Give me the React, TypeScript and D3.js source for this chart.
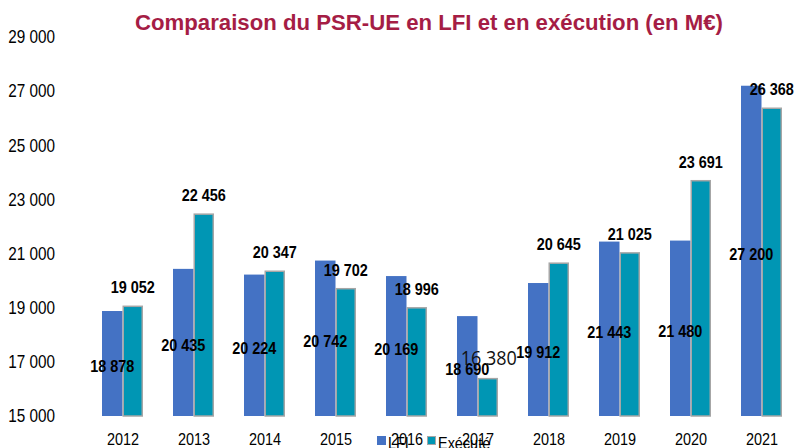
import React from "react";
import * as d3 from "d3";

const years = ["2012", "2013", "2014", "2015", "2016", "2017", "2018", "2019", "2020", "2021"];
const lfi = [18878, 20435, 20224, 20742, 20169, 18690, 19912, 21443, 21480, 27200];
const execute = [19052, 22456, 20347, 19702, 18996, 16380, 20645, 21025, 23691, 26368];
const yTicks = [15000, 17000, 19000, 21000, 23000, 25000, 27000, 29000];
const seriesNames = ["LFI", "Exécuté"];

const W = 795;
const H = 448;
const SANS = "'Liberation Sans', Arial, sans-serif";
const fmt = (v: number) => d3.format(",")(v).replace(/,/g, " ");

function NText({ x, y, anchor = "start", size = 17, bold = false, fill = "#000", sx = 0.85, dy = "0", family = SANS, children }: any) {
  return (
    <text
      transform={`translate(${x},${y}) scale(${sx},1)`}
      dy={dy}
      textAnchor={anchor}
      fontFamily={family}
      fontWeight={bold ? "bold" : "normal"}
      fontSize={size}
      fill={fill}
    >
      {children}
    </text>
  );
}

export default function App() {
  const x = d3.scaleBand<string>().domain(years).range([87, 797]).padding(0);
  const inner = d3.scaleBand<string>().domain(["LFI", "Exec"]).range([15, 56]).padding(0);
  const y = d3.scaleLinear().domain([15000, 29000]).range([416, 37]);
  const blue = "#4472C4";
  const teal = "#0096B4";
  const grey = "#A6A6A6";

  return (
    <svg width={W} height={H} style={{ position: "absolute", left: 0, top: 0 }}>
      <rect width={W} height={H} fill="#fff" />
      <text x={429} y={30} textAnchor="middle" fontFamily={SANS} fontWeight="bold" fontSize={22.2} fill="#A51D45">
        Comparaison du PSR-UE en LFI et en exécution (en M€)
      </text>
      {yTicks.map((t) => (
        <NText key={t} x={55} y={y(t)} dy="0.35em" anchor="end" size={18}>
          {fmt(t)}
        </NText>
      ))}
      {years.map((yr, i) => {
        const x0 = x(yr)!;
        const xl = x0 + inner("LFI")!;
        const xe = x0 + inner("Exec")!;
        const bw = inner.bandwidth();
        return (
          <g key={yr}>
            <rect x={xl} y={y(lfi[i])} width={bw} height={y(15000) - y(lfi[i])} fill={blue} />
            <rect x={xe + 0.75} y={y(execute[i])} width={bw - 1.5} height={y(15000) - y(execute[i])} fill={teal} stroke={grey} strokeWidth={1.5} />
          </g>
        );
      })}
      {years.map((yr) => (
        <NText key={yr} x={x(yr)! + x.bandwidth() / 2 + 0.5} y={445} anchor="middle" size={17}>
          {yr}
        </NText>
      ))}
      {years.map((yr, i) => {
        const x0 = x(yr)!;
        const bw = inner.bandwidth();
        const cl = x0 + inner("LFI")! + bw / 2;
        const ce = x0 + inner("Exec")! + bw / 2;
        const midL = (y(lfi[i]) + y(15000)) / 2;
        const odd = i === 5;
        return (
          <g key={yr}>
            <NText x={cl} y={midL + 3} dy="0.35em" anchor="middle" bold size={17}>
              {fmt(lfi[i])}
            </NText>
            {odd ? (
              <NText x={ce + 1} y={y(execute[i]) - 21} dy="0.35em" anchor="middle" size={20} sx={0.9} fill="#111" family="'Open Sans', 'DejaVu Sans', sans-serif">
                {fmt(execute[i])}
              </NText>
            ) : (
              <NText x={ce} y={y(execute[i]) - 19} dy="0.35em" anchor="middle" bold size={17}>
                {fmt(execute[i])}
              </NText>
            )}
          </g>
        );
      })}
      <g>
        <rect x={377} y={436} width={9} height={9} fill={blue} />
        <NText x={388} y={449} size={17}>{seriesNames[0]}</NText>
        <rect x={427.5} y={436.5} width={8} height={8} fill={teal} stroke={grey} strokeWidth={1} />
        <NText x={438} y={449} size={17}>{seriesNames[1]}</NText>
      </g>
    </svg>
  );
}
